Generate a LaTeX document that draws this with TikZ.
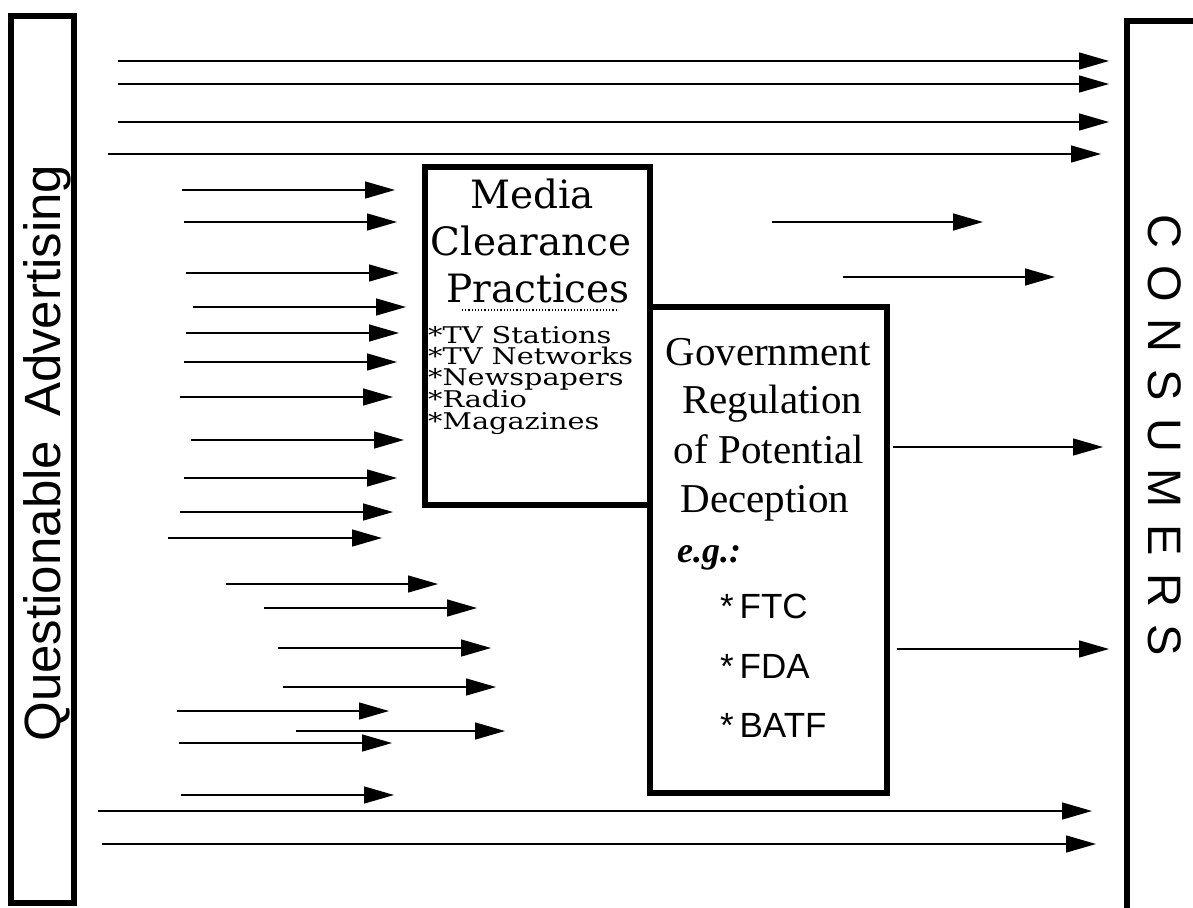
\documentclass[tikz,border=0pt]{standalone}
\usepackage{fontspec}
\setmainfont{Liberation Serif}
\newfontfamily\schfont{DejaVu Serif}
\newfontfamily\itemfont[FakeStretch=1.25]{DejaVu Serif}
\newfontfamily\helfont{Liberation Sans}
\newfontfamily\spacedfont[LetterSpace=36]{Liberation Sans}
\usetikzlibrary{arrows.meta}
\tikzset{
  flow/.style={-{Triangle[length=30pt,width=17pt]}, line width=1.4pt},
  panel/.style={draw, line width=6pt, fill=white},
  medhead/.style={anchor=base, inner sep=0pt, font=\schfont\fontsize{39}{47}\selectfont},
  meditem/.style={anchor=base west, inner sep=0pt, font=\itemfont\fontsize{23}{22}\selectfont},
  govhead/.style={anchor=base, inner sep=0pt, font=\fontsize{41}{49}\selectfont},
  agency/.style={anchor=base west, inner sep=0pt, font=\helfont\fontsize{35}{40}\selectfont},
}
\begin{document}
\begin{tikzpicture}[x=1pt,y=-1pt]
      \useasboundingbox (0,0) rectangle (1193,907);
      % side panels
      \draw [line width=6pt] (11,16) rectangle (74,903);
      \draw [line width=6pt] (1200,21) -- (1127,21) -- (1127,915);
      \node (qa) [anchor=base, rotate=90, inner sep=0pt, font=\helfont\fontsize{51}{60}\selectfont]
        at (60,453) {Questionable\hspace{24pt}Advertising};
      \node (cons) [rotate=-90, inner sep=0pt, font=\spacedfont\fontsize{47}{55}\selectfont]
        at (1165,435) {CONSUMERS};
      % the arrows
      \foreach \sx/\ex/\y [count=\i] in {118/1109/61, 118/1109/84, 118/1109/122, 108/1101/154,
          182/395/190, 184/397/222, 186/399/273, 193/406/307, 186/399/333, 184/397/362,
          180/393/397, 191/404/440, 184/397/478, 180/393/512, 168/382/538,
          226/438/584, 264/477/608, 278/491/648, 283/496/687, 177/389/711, 296/505/731,
          179/392/743, 181/394/795, 98/1092/811, 102/1096/844,
          772/983/222, 843/1055/277, 893/1103/447, 897/1109/649} {
        \coordinate (s\i) at (\sx,\y);
        \coordinate (e\i) at (\ex,\y);
        \draw [flow] (s\i) -- (e\i);
      }
      % media box
      \draw [panel] (425,167) rectangle (650,505);
      \node (m1) [medhead] at (532,208) {Media};
      \node (m2) [medhead] at (531,255) {Clearance};
      \node (m3) [medhead] at (538,302) {Practices};
      \draw [dotted, line width=1.2pt] (462,310) -- (617,310);
      \node (tvs) [meditem] at (428,343) {*TV Stations};
      \node (tvn) [meditem] at (428,364) {*TV Networks};
      \node (news) [meditem] at (428,385) {*Newspapers};
      \node (radio) [meditem] at (428,407) {*Radio};
      \node (mags) [meditem] at (428,429) {*Magazines};
      % government box
      \draw [panel] (650,307) rectangle (887,793);
      \node (g1) [govhead] at (768,365) {Government};
      \node (g2) [govhead] at (772,413) {Regulation};
      \node (g3) [govhead] at (769,463) {of Potential};
      \node (g4) [govhead] at (765,512) {Deception};
      \node (eg) [anchor=base west, inner sep=0pt, font=\fontsize{36}{40}\selectfont\bfseries\itshape]
        at (677,562) {e.g.:};
      \node (ftc) [agency] at (720,618) {*\,FTC};
      \node (fda) [agency] at (720,678) {*\,FDA};
      \node (batf) [agency] at (720,737) {*\,BATF};
\end{tikzpicture}
\end{document}
